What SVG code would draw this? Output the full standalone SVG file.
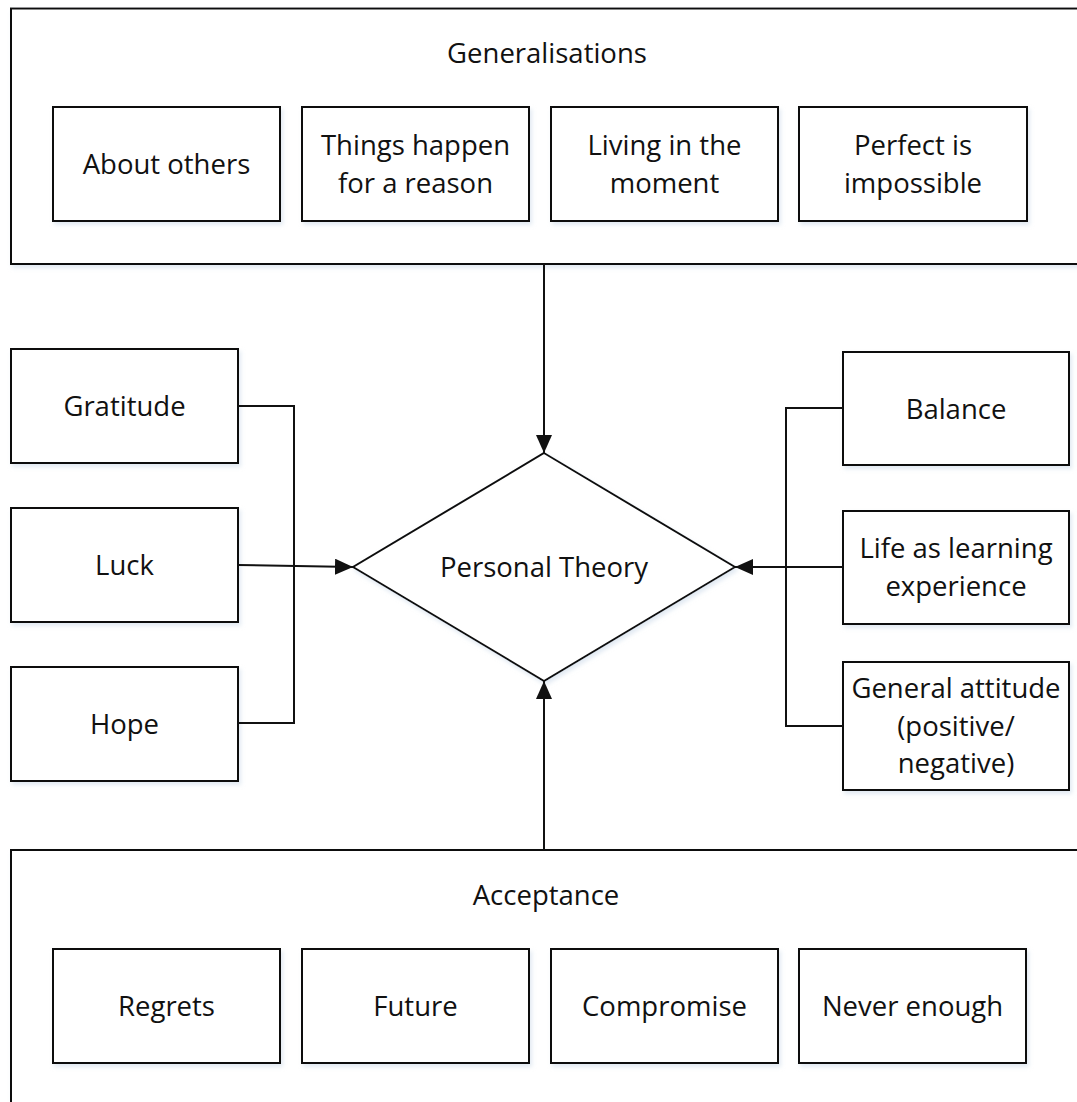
<svg xmlns="http://www.w3.org/2000/svg" width="1077" height="1102" viewBox="0 0 1077 1102">
  <style>
    .box { fill: #ffffff; stroke: #111111; stroke-width: 2; filter: url(#soft); }
    .frame { fill: #ffffff; stroke: #111111; stroke-width: 2; filter: url(#soft); }
    .lbl { font-family: "Open Sans", "Liberation Sans", sans-serif; font-size: 27.5px; fill: #111111; text-anchor: middle; }
    .wire { fill: none; stroke: #111111; stroke-width: 2; }
  </style>
  <defs>
    <filter id="soft" x="-5%" y="-5%" width="110%" height="115%">
      <feDropShadow dx="2" dy="3" stdDeviation="2" flood-color="#cfdbea" flood-opacity="0.6"/>
    </filter>
    <marker id="arrow" viewBox="0 0 18 16" refX="18" refY="8" markerWidth="18" markerHeight="16" markerUnits="userSpaceOnUse" orient="auto">
      <path d="M0,0 L18,8 L0,16 Z" fill="#111111"/>
    </marker>
  </defs>

  <!-- outer group: Generalisations -->
  <g id="generalisations">
    <rect class="frame" x="11" y="8.5" width="1080" height="255.5"/>
    <text class="lbl" x="547" y="63">Generalisations</text>
  </g>
  <g id="about-others">
    <rect class="box" x="53" y="107" width="227" height="114"/>
    <text class="lbl" x="166.5" y="174">About others</text>
  </g>
  <g id="things-happen">
    <rect class="box" x="302" y="107" width="227" height="114"/>
    <text class="lbl" x="415.5" y="155">Things happen</text>
    <text class="lbl" x="415.5" y="193">for a reason</text>
  </g>
  <g id="living-moment">
    <rect class="box" x="551" y="107" width="227" height="114"/>
    <text class="lbl" x="664.5" y="155">Living in the</text>
    <text class="lbl" x="664.5" y="193">moment</text>
  </g>
  <g id="perfect-impossible">
    <rect class="box" x="799" y="107" width="228" height="114"/>
    <text class="lbl" x="913" y="155">Perfect is</text>
    <text class="lbl" x="913" y="193">impossible</text>
  </g>

  <!-- left column -->
  <g id="gratitude">
    <rect class="box" x="11" y="349" width="227" height="114"/>
    <text class="lbl" x="124.5" y="416">Gratitude</text>
  </g>
  <g id="luck">
    <rect class="box" x="11" y="508" width="227" height="114"/>
    <text class="lbl" x="124.5" y="575">Luck</text>
  </g>
  <g id="hope">
    <rect class="box" x="11" y="667" width="227" height="114"/>
    <text class="lbl" x="124.5" y="734">Hope</text>
  </g>

  <!-- right column -->
  <g id="balance">
    <rect class="box" x="843" y="352" width="226" height="113"/>
    <text class="lbl" x="956" y="419">Balance</text>
  </g>
  <g id="life-learning">
    <rect class="box" x="843" y="511" width="226" height="113"/>
    <text class="lbl" x="956" y="558">Life as learning</text>
    <text class="lbl" x="956" y="596">experience</text>
  </g>
  <g id="general-attitude">
    <rect class="box" x="843" y="662" width="226" height="128"/>
    <text class="lbl" x="956" y="698">General attitude</text>
    <text class="lbl" x="956" y="736">(positive/</text>
    <text class="lbl" x="956" y="773">negative)</text>
  </g>

  <!-- centre decision -->
  <g id="personal-theory">
    <polygon class="box" points="544,453 735,567 544,681 353,567"/>
    <text class="lbl" x="544" y="577">Personal Theory</text>
  </g>

  <!-- outer group: Acceptance -->
  <g id="acceptance">
    <rect class="frame" x="11" y="850" width="1080" height="300"/>
    <text class="lbl" x="546" y="905">Acceptance</text>
  </g>
  <g id="regrets">
    <rect class="box" x="53" y="949" width="227" height="114"/>
    <text class="lbl" x="166.5" y="1016">Regrets</text>
  </g>
  <g id="future">
    <rect class="box" x="302" y="949" width="227" height="114"/>
    <text class="lbl" x="415.5" y="1016">Future</text>
  </g>
  <g id="compromise">
    <rect class="box" x="551" y="949" width="227" height="114"/>
    <text class="lbl" x="664.5" y="1016">Compromise</text>
  </g>
  <g id="never-enough">
    <rect class="box" x="799" y="949" width="227" height="114"/>
    <text class="lbl" x="912.5" y="1016">Never enough</text>
  </g>

  <!-- connectors -->
  <g id="connectors">
    <path class="wire" d="M544,264 L544,453" marker-end="url(#arrow)"/>
    <path class="wire" d="M544,850 L544,681" marker-end="url(#arrow)"/>
    <path class="wire" d="M238,406 L294,406 L294,723 L238,723"/>
    <path class="wire" d="M238,565 L353,567" marker-end="url(#arrow)"/>
    <path class="wire" d="M843,408 L786,408 L786,726 L843,726"/>
    <path class="wire" d="M843,567 L735,567" marker-end="url(#arrow)"/>
  </g>
</svg>
